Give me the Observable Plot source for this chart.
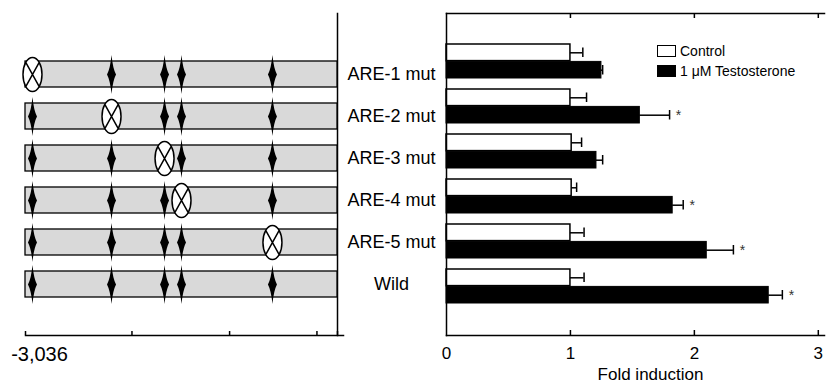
<!DOCTYPE html>
<html><head><meta charset="utf-8">
<script src="https://cdn.jsdelivr.net/npm/d3@7"></script>
<script src="https://cdn.jsdelivr.net/npm/@observablehq/plot@0.6"></script>
<style>
body{margin:0;background:#fff;font-family:"Liberation Sans",Arial,sans-serif;}
#wrap{position:relative;width:826px;height:386px;display:flex;}
#wrap svg{display:block;}
.lg-row{position:absolute;left:657px;height:20px;display:flex;align-items:center;font-size:14px;color:#000;white-space:nowrap;}
.lg-sw{box-sizing:border-box;width:19px;height:12px;border:1.5px solid #000;margin-right:4px;}
</style></head><body><div id="wrap"></div>
<script>
// ---- data ----
const constructs = ["ARE-1 mut","ARE-2 mut","ARE-3 mut","ARE-4 mut","ARE-5 mut","Wild"];
const mutatedSite = [0,1,2,3,4,null];           // index of mutated ARE per construct
const sitePositions = [-2968,-2199,-1683,-1518,-633]; // ARE positions (bp)
const promoterStart = -3036, promoterEnd = 0;
const positionTicks = [-3036,-2000,-1050,-200,0];
const positionLabels = [-3036];
const series = ["Control","1 \u03bcM Testosterone"];
const seriesFill = ["#ffffff","#000000"];
const controlMean = [1.00,1.00,1.01,1.01,1.00,1.00];
const controlErr  = [0.10,0.13,0.08,0.04,0.11,0.11];
const testoMean   = [1.25,1.56,1.21,1.825,2.10,2.60];
const testoErr    = [0.01,0.24,0.05,0.085,0.215,0.11];
const significant = [false,true,false,true,true,true];
const foldTicks = [0,1,2,3];
const xLabel = "Fold induction";

// ---- derived tables ----
const font = '"Liberation Sans", Arial, sans-serif';
const rows = constructs.map(c => ({construct:c, start:promoterStart, end:promoterEnd}));
const sites = constructs.flatMap((c,i) => sitePositions.map((p,j) => ({construct:c, pos:p, mut: mutatedSite[i] === j})));
const bars = constructs.map((c,i) => ({construct:c, ctrl:controlMean[i], ctrlHi:controlMean[i]+controlErr[i],
  t:testoMean[i], tHi:testoMean[i]+testoErr[i], sig:significant[i]}));

const diamond = {draw(ctx){
  ctx.moveTo(0,-19.5); ctx.quadraticCurveTo(1.3,-6,4.5,0); ctx.quadraticCurveTo(1.3,6,0,19.5);
  ctx.quadraticCurveTo(-1.3,6,-4.5,0); ctx.quadraticCurveTo(-1.3,-6,0,-19.5); ctx.closePath();
}};
const mutSymbol = {draw(ctx){
  const rx=9.5, ry=17, k=0.5523;
  ctx.moveTo(rx,0);
  ctx.bezierCurveTo(rx,ry*k,rx*k,ry,0,ry);
  ctx.bezierCurveTo(-rx*k,ry,-rx,ry*k,-rx,0);
  ctx.bezierCurveTo(-rx,-ry*k,-rx*k,-ry,0,-ry);
  ctx.bezierCurveTo(rx*k,-ry,rx,-ry*k,rx,0);
  ctx.closePath();
  const a=Math.SQRT1_2;
  ctx.moveTo(-rx*a,-ry*a); ctx.lineTo(rx*a,ry*a);
  ctx.moveTo(rx*a,-ry*a); ctx.lineTo(-rx*a,ry*a);
}};

const left = Plot.plot({
  width:436, height:386, marginLeft:25, marginRight:99, marginTop:13, marginBottom:51,
  style:{fontFamily:font, fontSize:"18px", color:"#000", background:"transparent", overflow:"visible"},
  x:{domain:[promoterStart, promoterEnd]},
  y:{domain:constructs, range:[52,306], paddingInner:0.375, paddingOuter:0.1875, axis:null},
  marks:[
    Plot.frame({anchor:"right", stroke:"#000", strokeWidth:1.5}),
    Plot.frame({anchor:"bottom", stroke:"#000", strokeWidth:1.5, insetRight:-6}),
    Plot.tickX(positionTicks, {x:d=>d, stroke:"#000", strokeWidth:1.5, insetTop:318}),
    Plot.axisX({ticks:positionLabels, tickSize:0, tickPadding:11, fontSize:20, dx:14, label:null,
      tickFormat:d=>d3.format(",")(d).replace("\u2212","-")}),
    Plot.barX(rows, {x1:"start", x2:"end", y:"construct", fill:"#d9d9d9", stroke:"#000", strokeWidth:1.3}),
    Plot.dot(sites.filter(d=>!d.mut), {x:"pos", y:"construct", symbol:diamond, fill:"#000", stroke:"none"}),
    Plot.dot(sites.filter(d=>d.mut), {x:"pos", y:"construct", symbol:mutSymbol, fill:"#fff", stroke:"#000", strokeWidth:1.5}),
    Plot.text(constructs, {y:d=>d, text:d=>d, frameAnchor:"right", dx:54, textAnchor:"middle", fontSize:18, fill:"#000"})
  ]
});

const half = 17.4;
const right = Plot.plot({
  width:390, height:386, marginLeft:10, marginRight:2, marginTop:13, marginBottom:51,
  style:{fontFamily:font, fontSize:"16px", color:"#000", background:"transparent", overflow:"visible"},
  x:{domain:[0,3.05]},
  y:{domain:constructs, paddingInner:0.24, paddingOuter:0.63, axis:null},
  marks:[
    Plot.barX(bars, {x:"ctrl", y:"construct", insetBottom:half, fill:seriesFill[0], stroke:"#000", strokeWidth:1.5}),
    Plot.barX(bars, {x:"t", y:"construct", insetTop:half, fill:seriesFill[1], stroke:"#000", strokeWidth:1}),
    Plot.ruleY(bars, {y:"construct", x1:"ctrl", x2:"ctrlHi", dy:-8.7, stroke:"#000", strokeWidth:1.5}),
    Plot.ruleY(bars, {y:"construct", x1:"t", x2:"tHi", dy:8.7, stroke:"#000", strokeWidth:1.5}),
    Plot.tickX(bars, {x:"ctrlHi", y:"construct", insetTop:3.5, insetBottom:21, stroke:"#000", strokeWidth:1.5}),
    Plot.tickX(bars, {x:"tHi", y:"construct", insetTop:21, insetBottom:3.5, stroke:"#000", strokeWidth:1.5}),
    Plot.text(bars.filter(d=>d.sig), {x:"tHi", y:"construct", text:()=>"*", dx:9, dy:9, fontSize:14, fill:"#333"}),
    Plot.frame({anchor:"left", stroke:"#000", strokeWidth:1.5}),
    Plot.frame({anchor:"top", stroke:"#000", strokeWidth:1.5}),
    Plot.frame({anchor:"bottom", stroke:"#000", strokeWidth:1.5}),
    Plot.tickX(foldTicks.slice(1), {x:d=>d, insetTop:317, stroke:"#000", strokeWidth:1.5}),
    Plot.tickX(foldTicks.slice(1), {x:d=>d, insetBottom:317, stroke:"#000", strokeWidth:1.5}),
    Plot.axisX({ticks:foldTicks, tickSize:0, tickPadding:11, fontSize:17, label:null, tickFormat:d=>String(d)}),
    Plot.text([xLabel], {frameAnchor:"bottom", text:d=>d, dx:15, dy:44, fontSize:17, fill:"#000"})
  ]
});

const wrap = document.getElementById("wrap");
wrap.appendChild(left);
wrap.appendChild(right);
series.forEach((s,i) => {
  const row = document.createElement("div");
  row.className = "lg-row";
  row.style.top = (41 + i*20) + "px";
  const sw = document.createElement("div");
  sw.className = "lg-sw";
  sw.style.background = seriesFill[i];
  row.appendChild(sw);
  row.appendChild(document.createTextNode(s));
  wrap.appendChild(row);
});
</script></body></html>
